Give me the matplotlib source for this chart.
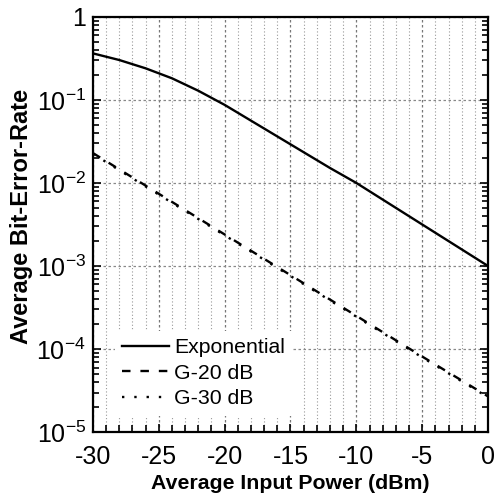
import numpy as np
import matplotlib
matplotlib.use("Agg")
import matplotlib.pyplot as plt
from matplotlib.ticker import MultipleLocator, FixedLocator, FuncFormatter, LogLocator, NullFormatter

plt.rcParams['font.family'] = ['Liberation Sans', 'DejaVu Sans']
plt.rcParams['mathtext.fontset'] = 'custom'
plt.rcParams['mathtext.rm'] = 'Liberation Sans'
plt.rcParams['mathtext.it'] = 'Liberation Sans'
plt.rcParams['mathtext.bf'] = 'Liberation Sans:bold'
plt.rcParams['axes.unicode_minus'] = False

# Data
power_exp = [-30, -28, -26, -24, -22, -20, -18, -16, -14, -12, -10, -8, -6, -4, -2, 0]
log_ber_exp = [-0.44, -0.52, -0.62, -0.74, -0.89, -1.06, -1.25, -1.44, -1.63, -1.82,
               -2.00, -2.20, -2.40, -2.60, -2.80, -3.00]
power_g = [-30, -25, -20, -15, -10, -5, 0]
log_ber_g20 = [-1.64, -2.13, -2.62, -3.11, -3.60, -4.09, -4.57]
log_ber_g30 = [-1.65, -2.14, -2.63, -3.12, -3.61, -4.10, -4.58]
labels = ["Exponential", "G-20 dB", "G-30 dB"]
xticks = [-30, -25, -20, -15, -10, -5, 0]
yticks = [1e-5, 1e-4, 1e-3, 1e-2, 1e-1, 1]

ber_exp = 10 ** np.array(log_ber_exp)
ber_g20 = 10 ** np.array(log_ber_g20)
ber_g30 = 10 ** np.array(log_ber_g30)

fig = plt.figure(figsize=(4.97, 4.95), dpi=100)
ax = fig.add_axes([0.187, 0.127, 0.795, 0.839])

ax.plot(power_exp, ber_exp, color='black', lw=1.7, ls='-', label=labels[0])
ax.plot(power_g, ber_g20, color='black', lw=1.7, ls=(0, (3.6, 4.2)), label=labels[1])
ax.plot(power_g, ber_g30, color='black', lw=1.7, ls=(0, (1, 4.2)), label=labels[2])

ax.set_yscale('log')
ax.set_xlim(-30, 0)
ax.set_ylim(1e-5, 1)

ax.xaxis.set_major_locator(FixedLocator(xticks))
ax.xaxis.set_minor_locator(MultipleLocator(1))
ax.yaxis.set_major_locator(FixedLocator(yticks))
ax.yaxis.set_minor_locator(LogLocator(base=10, subs=np.arange(2, 10), numticks=20))
ax.yaxis.set_minor_formatter(NullFormatter())

def yfmt(v, pos):
    e = int(round(np.log10(v)))
    if e == 0:
        return "1"
    return r"$\mathregular{10^{%d}}$" % e
ax.yaxis.set_major_formatter(FuncFormatter(yfmt))
ax.xaxis.set_major_formatter(FuncFormatter(lambda v, p: "%d" % v))

ax.tick_params(axis='both', which='both', direction='in', labelsize=18, width=1.2)
ax.tick_params(axis='x', which='major', length=6, top=False, pad=9)
ax.tick_params(axis='x', which='minor', length=5, top=False)
ax.tick_params(axis='y', which='major', length=6, right=True, pad=5)
ax.tick_params(axis='y', which='minor', length=4, right=True)

ax.grid(True, axis='x', which='minor', color='#999999', ls=(0, (1, 2)), lw=0.8)
ax.grid(True, axis='x', which='major', color='#777777', ls=(0, (2, 2)), lw=0.9)
ax.grid(True, axis='y', which='major', color='#888888', ls=(0, (2, 2)), lw=0.9)
ax.set_axisbelow(True)

for s in ax.spines.values():
    s.set_linewidth(1.6)

ax.set_xlabel("Average Input Power (dBm)", fontsize=15.3, fontweight='bold', labelpad=4)
ax.set_ylabel("Average Bit-Error-Rate", fontsize=17, fontweight='bold', labelpad=4)
ax.yaxis.set_label_coords(-0.152, 0.52)

leg = ax.legend(loc='lower left', bbox_to_anchor=(0.055, 0.04), frameon=True, fancybox=False,
                edgecolor='none', facecolor='white', framealpha=1, fontsize=15.3,
                handlelength=2.2, handletextpad=0.25, labelspacing=0.3, borderpad=0.35,
                borderaxespad=0)

fig.savefig("out.png", dpi=100)
